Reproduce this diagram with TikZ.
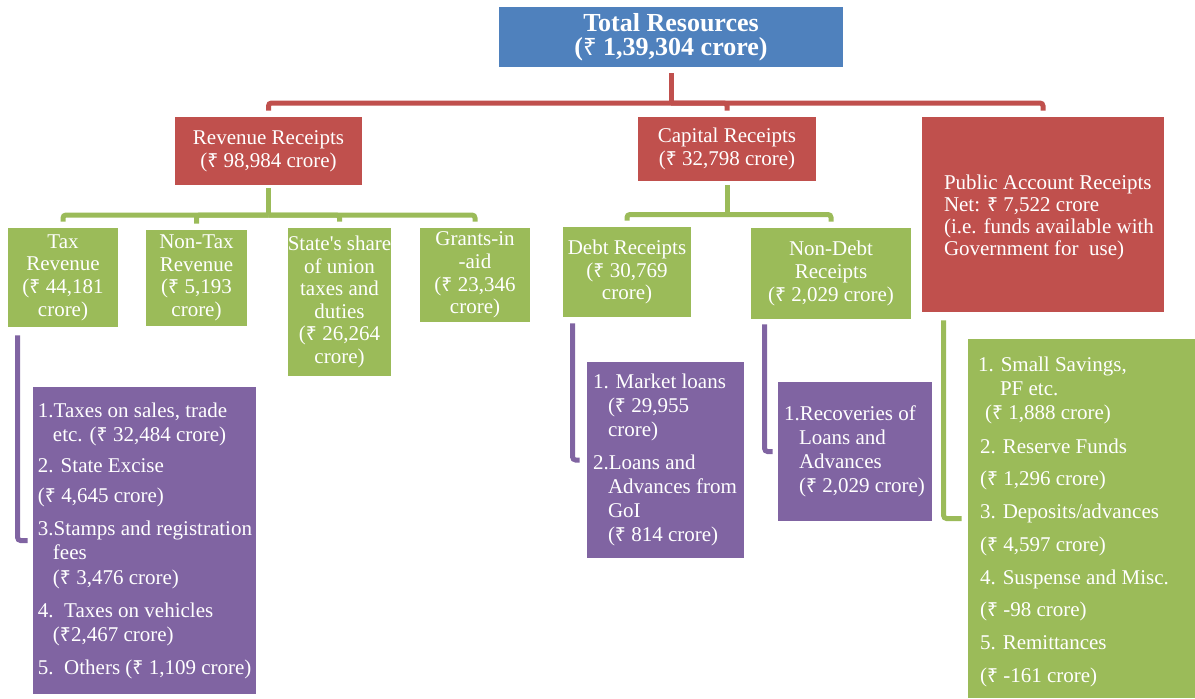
\documentclass[tikz,border=0pt]{standalone}
\usepackage{fontspec}
\setmainfont{Liberation Serif}
\newfontfamily\rupeefont[Scale=0.92]{Noto Sans}
\newcommand{\rs}{{\rupeefont ₹}}
\definecolor{blueshade}{HTML}{4F81BD}
\definecolor{redshade}{HTML}{C0504D}
\definecolor{greenshade}{HTML}{9BBB59}
\definecolor{purpleshade}{HTML}{8064A2}

\begin{document}
\begin{tikzpicture}[x=0.5pt, y=-0.5pt,
        block/.style={rectangle, inner sep=0pt, text=white, align=center,
            font=\fontsize{10.5}{11.3}\selectfont},
        items/.style={anchor=west, inner sep=0pt, text=white, align=left,
            font=\fontsize{10.5}{12}\selectfont},
        link/.style={line width=2.5pt, rounded corners=1.5pt}]
        \useasboundingbox (0, 0) rectangle (1195, 698);
        \node[block, fill=blueshade, minimum width=172pt, minimum height=30pt,
            font=\bfseries\fontsize{13}{12}\selectfont] (total) at (671, 37) {Total Resources\\(\rs{} 1,39,304 crore)};
        \node[block, fill=redshade, minimum width=93.5pt, minimum height=34pt] (revenue) at (268.5, 151) {Revenue Receipts\\(\rs{} 98,984 crore)};
        \node[block, fill=redshade, minimum width=89pt, minimum height=32pt] (capital) at (727, 149) {Capital Receipts\\(\rs{} 32,798 crore)};
        \node[block, fill=redshade, minimum width=121pt, minimum height=97.5pt] (public) at (1043, 214.5) {};
        \node[items, font=\fontsize{10.5}{11}\selectfont] (publictext) at ([xshift=11pt, yshift=-1.5pt]public.west) {Public Account Receipts\\Net: \rs{} 7,522 crore\\(i.e. funds available with\\Government for\ \ use)};
        \node[block, fill=greenshade, minimum width=55pt, minimum height=49.5pt] (tax) at (63, 277.5) {Tax\\Revenue\\(\rs{} 44,181\\crore)};
        \node[block, fill=greenshade, minimum width=50.5pt, minimum height=48pt] (nontax) at (196.5, 278) {Non-Tax\\Revenue\\(\rs{} 5,193\\crore)};
        \node[block, fill=greenshade, minimum width=50.5pt, minimum height=74pt] (share) at (339.5, 302) {State\textquotesingle s share\\of union\\taxes and\\duties\\(\rs{} 26,264\\crore)};
        \node[block, fill=greenshade, minimum width=55pt, minimum height=47pt] (grants) at (475, 275) {Grants-in\\-aid\\(\rs{} 23,346\\crore)};
        \node[block, fill=greenshade, minimum width=64pt, minimum height=45pt] (debt) at (627, 272) {Debt Receipts\\(\rs{} 30,769\\crore)};
        \node[block, fill=greenshade, minimum width=80pt, minimum height=45.5pt] (nondebt) at (831, 273.5) {Non-Debt\\Receipts\\(\rs{} 2,029 crore)};
        \node[block, fill=purpleshade, minimum width=111.5pt, minimum height=153.5pt] (taxlist) at (144.5, 540.5) {};
        \node[items] (taxitems) at ([xshift=2.5pt]taxlist.west) {1.Taxes on sales, trade\\
            \hspace*{7.5pt}etc. (\rs{} 32,484 crore)\\[3.5pt]
            2. State Excise\\[3pt]
            (\rs{} 4,645 crore)\\[4.5pt]
            3.Stamps and registration\\
            \hspace*{7.5pt}fees\\[0.5pt]
            \hspace*{7.5pt}(\rs{} 3,476 crore)\\[4.5pt]
            4.\ \ Taxes on vehicles\\
            \hspace*{7.5pt}(\rs2,467 crore)\\[4.5pt]
            5.\ \ Others (\rs{} 1,109 crore)};
        \node[block, fill=purpleshade, minimum width=78.5pt, minimum height=98pt] (debtlist) at (665.5, 460) {};
        \node[items] (debtitems) at ([xshift=3pt]debtlist.west) {1. Market loans\\
            \hspace*{7.5pt}(\rs{} 29,955\\
            \hspace*{7.5pt}crore)\\[4.5pt]
            2.Loans and\\
            \hspace*{7.5pt}Advances from\\
            \hspace*{7.5pt}GoI\\
            \hspace*{7.5pt}(\rs{} 814 crore)};
        \node[block, fill=purpleshade, minimum width=77pt, minimum height=69.5pt] (nondebtlist) at (855, 451.5) {};
        \node[items] (nondebtitems) at ([xshift=3pt]nondebtlist.west) {1.Recoveries of\\
            \hspace*{7.5pt}Loans and\\
            \hspace*{7.5pt}Advances\\
            \hspace*{7.5pt}(\rs{} 2,029 crore)};
        \node[block, fill=greenshade, minimum width=113.5pt, minimum height=179.5pt] (publist) at (1081.5, 518.5) {};
        \node[items] (publicitems) at ([xshift=5pt, yshift=-1.5pt]publist.west) {1. Small Savings,\\
            \hspace*{11pt}PF etc.\\
            \hspace*{3.5pt}(\rs{} 1,888 crore)\\[5pt]
            \hspace*{1pt}2. Reserve Funds\\[4pt]
            \hspace*{1pt}(\rs{} 1,296 crore)\\[4.5pt]
            \hspace*{1pt}3. Deposits/advances\\[4.5pt]
            \hspace*{1pt}(\rs{} 4,597 crore)\\[4.5pt]
            \hspace*{1pt}4. Suspense and Misc.\\[4pt]
            \hspace*{1pt}(\rs{} -98 crore)\\[4.5pt]
            \hspace*{1pt}5. Remittances\\[4.5pt]
            \hspace*{1pt}(\rs{} -161 crore)};
        \node[coordinate] (redbus) at (671, 103) {};
        \node[coordinate] (revbus) at (268.5, 215) {};
        \node[coordinate] (capbus) at (727, 214.5) {};
        \draw[link, redshade, shorten <=3pt] (total.south) -- (redbus);
        \draw[link, redshade, shorten >=3pt] (redbus) -| (revenue.north);
        \draw[link, redshade, shorten >=3pt] (redbus) -| (capital.north);
        \draw[link, redshade, shorten >=3pt] (redbus) -| (public.north);
        \draw[link, greenshade, shorten <=1.5pt] (revenue.south) -- (revbus);
        \draw[link, greenshade, shorten >=3pt] (revbus) -| (tax.north);
        \draw[link, greenshade, shorten >=3pt] (revbus) -| (nontax.north);
        \draw[link, greenshade, shorten >=3pt] (revbus) -| (share.north);
        \draw[link, greenshade, shorten >=3pt] (revbus) -| (grants.north);
        \draw[link, greenshade, shorten <=2pt] (capital.south) -- (capbus);
        \draw[link, greenshade, shorten >=3pt] (capbus) -| (debt.north);
        \draw[link, greenshade, shorten >=3pt] (capbus) -| (nondebt.north);
        \draw[link, purpleshade, shorten >=2.5pt] ([shift={(5pt,-4pt)}]tax.south west) |- (taxlist.west);
        \draw[link, purpleshade, shorten >=3.5pt] ([shift={(5pt,-3pt)}]debt.south west) |- (debtlist.west);
        \draw[link, purpleshade, shorten >=2.5pt] ([shift={(7pt,-2.5pt)}]nondebt.south west) |- (nondebtlist.west);
        \draw[link, greenshade, shorten >=3pt] ([shift={(11pt,-4pt)}]public.south west) |- (publist.west);
    \end{tikzpicture}
\end{document}
